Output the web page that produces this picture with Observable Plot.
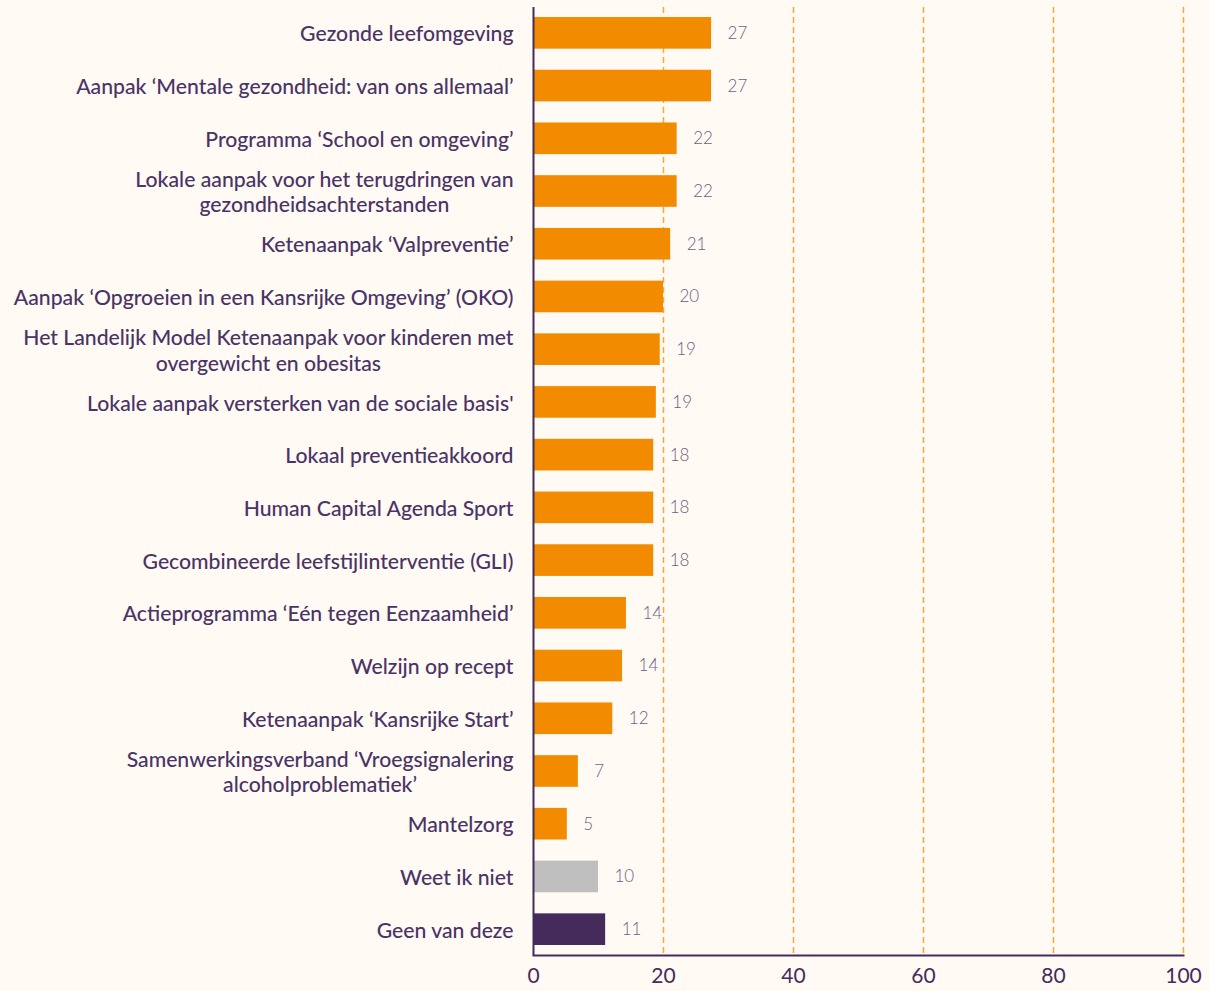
<!DOCTYPE html>
<html><head><meta charset="utf-8">
<script src="https://cdn.jsdelivr.net/npm/d3@7"></script>
<script src="https://cdn.jsdelivr.net/npm/@observablehq/plot@0.6"></script>
<style>html,body{margin:0;padding:0;background:#fffaf3;} svg{display:block}</style>
</head><body><div id="chart"></div>
<script>
const categories = [
  "Gezonde leefomgeving",
  "Aanpak ‘Mentale gezondheid: van ons allemaal’",
  "Programma ‘School en omgeving’",
  "Lokale aanpak voor het terugdringen van\ngezondheidsachterstanden",
  "Ketenaanpak ‘Valpreventie’",
  "Aanpak ‘Opgroeien in een Kansrijke Omgeving’ (OKO)",
  "Het Landelijk Model Ketenaanpak voor kinderen met\novergewicht en obesitas",
  "Lokale aanpak versterken van de sociale basis'",
  "Lokaal preventieakkoord",
  "Human Capital Agenda Sport",
  "Gecombineerde leefstijlinterventie (GLI)",
  "Actieprogramma ‘Eén tegen Eenzaamheid’",
  "Welzijn op recept",
  "Ketenaanpak ‘Kansrijke Start’",
  "Samenwerkingsverband ‘Vroegsignalering\nalcoholproblematiek’",
  "Mantelzorg",
  "Weet ik niet",
  "Geen van deze"
];
const values = [27.4, 27.4, 22.1, 22.1, 21.1, 20.0, 19.5, 18.9, 18.5, 18.5, 18.5, 14.3, 13.7, 12.2, 6.9, 5.2, 10.0, 11.1];
const valueLabels = ["27","27","22","22","21","20","19","19","18","18","18","14","14","12","7","5","10","11"];
const groups = ["regeling","regeling","regeling","regeling","regeling","regeling","regeling","regeling","regeling","regeling","regeling","regeling","regeling","regeling","regeling","regeling","weet niet","geen"];
const groupDomain = ["regeling","weet niet","geen"];
const groupColors = ["#f28b00","#bfbfbf","#452a5c"];
const xTicks = [0,20,40,60,80,100];
const gridTicks = [20,40,60,80,100];

const data = categories.map((c,i)=>({category:c, value:values[i], label:valueLabels[i], group:groups[i]}));

const chart = Plot.plot({
  width:1209, height:991,
  marginLeft:533, marginRight:26, marginTop:7, marginBottom:36,
  style:{background:"#fffaf3", fontFamily:"Lato, sans-serif", color:"#452a5c", overflow:"visible"},
  x:{domain:[0,100]},
  y:{domain:categories, paddingInner:0.4, paddingOuter:0.19, round:false},
  color:{domain:groupDomain, range:groupColors},
  marks:[
    Plot.ruleX(gridTicks, {stroke:"#f9a63a", strokeDasharray:"6,4", strokeWidth:1.5}),
    Plot.barX(data, {y:"category", x:"value", fill:"group"}),
    Plot.text(data, {y:"category", x:"value", text:"label", textAnchor:"start", dx:16, fill:"#6e5f85", fontSize:17, fontWeight:300}),
    Plot.ruleX([0], {stroke:"#452a5c", strokeWidth:2}),
    Plot.frame({anchor:"bottom", stroke:"#452a5c", strokeWidth:2}),
    Plot.axisX({ticks:xTicks, tickSize:0, tickPadding:13, fontSize:21, label:null, fill:"#452a5c"}),
    Plot.axisY({tickSize:0, tickPadding:20, fontSize:21.2, fontWeight:500, lineHeight:1.2, label:null, fill:"#4a3366"})
  ]
});
document.getElementById("chart").appendChild(chart);

// center multi-line y labels relative to each other
chart.querySelectorAll('g[aria-label="y-axis tick label"] text').forEach(t => {
  const spans = t.querySelectorAll("tspan");
  if (spans.length > 1) {
    let maxW = 0;
    spans.forEach(s => { maxW = Math.max(maxW, s.getComputedTextLength()); });
    t.setAttribute("text-anchor", "middle");
    spans.forEach(s => s.setAttribute("x", -maxW/2));
  }
});
</script>
</body></html>
